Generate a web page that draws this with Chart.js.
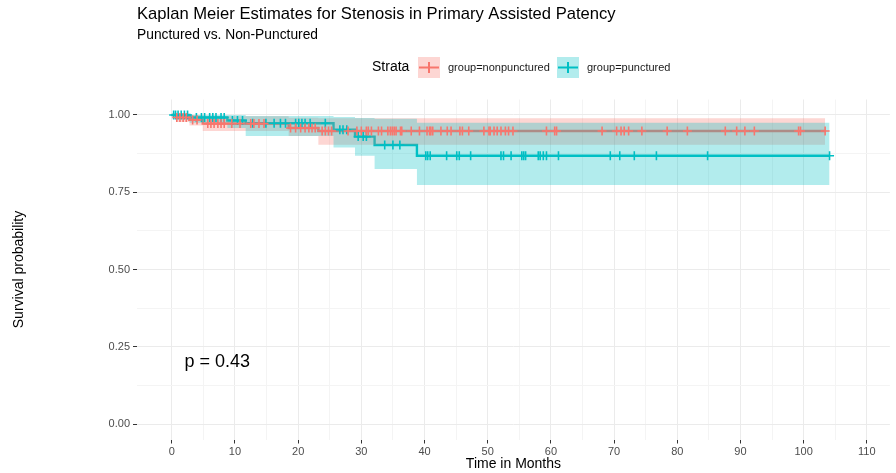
<!DOCTYPE html>
<html>
<head>
<meta charset="utf-8">
<script src="https://cdn.jsdelivr.net/npm/chart.js@4.4.0/dist/chart.umd.min.js"></script>
<style>
body { margin: 0; background: #fff; }
canvas { display: block; }
</style>
</head>
<body>
<canvas id="kmChart" width="896" height="473"></canvas>
<script>
// group=nonpunctured (red)
var nonpuncTimes = [0, 0.7, 2.8, 4.9, 18.5, 23.2, 103.4];
var nonpuncSurv  = [1, 0.992, 0.984, 0.972, 0.958, 0.948, 0.948];
var nonpuncLower = [1, 0.977, 0.966, 0.948, 0.932, 0.904, 0.904];
var nonpuncUpper = [1, 1, 1, 0.996, 0.991, 0.989, 0.989];
var nonpuncCensor = [0.8, 1.3, 1.8, 2.3, 3.3, 4.0, 5.7, 6.2, 6.7, 7.3, 7.8, 8.3, 9.5, 10.8,
  12.5, 13.0, 13.8, 14.6, 18.8, 19.6, 20.4, 21.1, 21.7, 22.2, 22.7, 23.8, 24.3, 24.8, 25.3,
  27.9, 29.3, 30.0, 30.8, 31.1, 31.6, 32.7, 33.2, 34.2, 34.6, 34.9, 35.2, 35.5, 36.2, 36.4,
  37.9, 39.2, 40.4, 40.8, 41.0, 41.3, 42.6, 43.6, 44.2, 45.6, 46.0, 47.0, 49.4, 50.2, 50.4,
  51.0, 51.5, 52.1, 52.8, 53.3, 54.0, 59.3, 60.6, 60.9, 68.1, 70.4, 71.1, 71.6, 72.3, 74.4,
  78.4, 81.6, 87.6, 89.4, 90.7, 92.2, 99.2, 99.5, 103.4];

// group=punctured (teal)
var puncTimes = [0, 2.8, 8.8, 11.7, 25.6, 29.0, 32.1, 38.8, 104.1];
var puncSurv  = [1, 0.992, 0.982, 0.973, 0.952, 0.930, 0.903, 0.868, 0.868];
var puncLower = [1, 0.975, 0.958, 0.932, 0.895, 0.868, 0.825, 0.773, 0.773];
var puncUpper = [1, 1, 1, 0.997, 0.993, 0.99, 0.988, 0.975, 0.975];
var puncCensor = [0.3, 0.6, 1.0, 1.5, 2.0, 2.5, 3.9, 4.7, 5.2, 6.0, 6.5, 7.0, 7.8, 8.3, 9.6,
  10.4, 11.2, 12.8, 14.9, 16.2, 17.2, 18.0, 19.6, 20.1, 20.6, 21.1, 21.9, 24.3, 26.6, 27.1,
  27.7, 29.5, 30.3, 30.8, 33.7, 35.0, 36.1, 40.2, 40.5, 40.9, 43.5, 45.1, 45.5, 47.3, 52.1,
  52.5, 53.7, 55.4, 55.7, 56.0, 58.0, 58.3, 58.8, 59.3, 61.2, 69.4, 70.9, 73.2, 76.7, 84.8, 104.1];

var xTicks = [0, 10, 20, 30, 40, 50, 60, 70, 80, 90, 100, 110];
var yTicks = [0, 0.25, 0.5, 0.75, 1];
var pvalText = "p = 0.43";

var redCol = '#F8766D';
var tealCol = '#00BFC4';
var redFill = 'rgba(248,118,109,0.3)';
var tealFill = 'rgba(0,191,196,0.3)';
var FONT = '"Liberation Sans", Arial, Helvetica, sans-serif';

function pts(times, vals) {
  return times.map(function (t, i) { return { x: t, y: vals[i] }; });
}

function survAt(times, surv, t) {
  var s = surv[0];
  for (var i = 0; i < times.length; i++) {
    if (times[i] <= t) s = surv[i];
  }
  return s;
}

function censorPts(cens, times, surv) {
  return cens.map(function (t) { return { x: t, y: survAt(times, surv, t) }; });
}

// minor grid positions halfway between labelled ticks
function withMinor(major) {
  var out = [];
  for (var i = 0; i < major.length; i++) {
    out.push(major[i]);
    if (i < major.length - 1) out.push((major[i] + major[i + 1]) / 2);
  }
  return out;
}
function isMajor(list, v) {
  return list.some(function (m) { return Math.abs(m - v) < 1e-6; });
}

var lineBase = { pointRadius: 0, stepped: 'before', fill: false, order: 3, borderWidth: 2.4 };

var annotPlugin = {
  id: 'annot',
  afterDraw: function (chart) {
    var c = chart.ctx;
    c.save();
    c.fillStyle = '#000';
    c.textBaseline = 'middle';
    c.textAlign = 'left';
    c.font = '16.6px ' + FONT;
    c.fillText('Kaplan Meier Estimates for Stenosis in Primary Assisted Patency', 137, 14);
    c.font = '13.8px ' + FONT;
    c.fillText('Punctured vs. Non-Punctured', 137, 35);

    // legend
    c.font = '14px ' + FONT;
    c.fillText('Strata', 372, 67);
    var keys = [
      { x: 418, fill: redFill, col: redCol, label: 'group=nonpunctured', lx: 448 },
      { x: 557, fill: tealFill, col: tealCol, label: 'group=punctured', lx: 587 }
    ];
    keys.forEach(function (k) {
      c.fillStyle = k.fill;
      c.fillRect(k.x, 57, 22, 21);
      c.strokeStyle = k.col;
      c.lineWidth = 2;
      c.beginPath();
      c.moveTo(k.x + 1, 67.5);
      c.lineTo(k.x + 21, 67.5);
      c.moveTo(k.x + 11, 62);
      c.lineTo(k.x + 11, 73);
      c.stroke();
      c.fillStyle = '#1a1a1a';
      c.font = '11px ' + FONT;
      c.fillText(k.label, k.lx, 67.5);
    });

    // p-value
    var xs = chart.scales.x, ys = chart.scales.y;
    c.fillStyle = '#000';
    c.font = '18px ' + FONT;
    c.fillText(pvalText, xs.getPixelForValue(2), ys.getPixelForValue(0.2));
    c.restore();
  }
};

new Chart(document.getElementById('kmChart'), {
  type: 'line',
  data: {
    datasets: [
      Object.assign({}, lineBase, { data: pts(nonpuncTimes, nonpuncSurv), borderColor: redCol }),
      Object.assign({}, lineBase, { data: pts(puncTimes, puncSurv), borderColor: tealCol }),
      { data: pts(puncTimes, puncUpper), pointRadius: 0, stepped: 'before', borderWidth: 0,
        borderColor: 'rgba(0,0,0,0)', backgroundColor: tealFill, fill: '+1', order: 2 },
      { data: pts(puncTimes, puncLower), pointRadius: 0, stepped: 'before', borderWidth: 0,
        borderColor: 'rgba(0,0,0,0)', fill: false, order: 2 },
      { data: pts(nonpuncTimes, nonpuncUpper), pointRadius: 0, stepped: 'before', borderWidth: 0,
        borderColor: 'rgba(0,0,0,0)', backgroundColor: redFill, fill: '+1', order: 2 },
      { data: pts(nonpuncTimes, nonpuncLower), pointRadius: 0, stepped: 'before', borderWidth: 0,
        borderColor: 'rgba(0,0,0,0)', fill: false, order: 2 },
      { data: censorPts(nonpuncCensor, nonpuncTimes, nonpuncSurv), showLine: false,
        pointStyle: 'cross', pointRadius: 4.5, borderWidth: 1.6, borderColor: redCol, order: 1 },
      { data: censorPts(puncCensor, puncTimes, puncSurv), showLine: false,
        pointStyle: 'cross', pointRadius: 4.5, borderWidth: 1.6, borderColor: tealCol, order: 1 }
    ]
  },
  options: {
    responsive: false,
    animation: false,
    layout: { padding: { top: 99.5, right: 0, bottom: 0, left: 0 } },
    plugins: { legend: { display: false }, tooltip: { enabled: false } },
    scales: {
      x: {
        type: 'linear',
        min: -5.5,
        max: 113.65,
        afterBuildTicks: function (scale) {
          scale.ticks = withMinor(xTicks).map(function (v) { return { value: v }; });
        },
        afterFit: function (scale) { scale.height = 33.5; },
        border: { display: false },
        grid: {
          color: function (ctx) { return isMajor(xTicks, ctx.tick.value) ? '#EBEBEB' : '#F4F4F4'; },
          tickColor: function (ctx) { return isMajor(xTicks, ctx.tick.value) ? '#333333' : 'rgba(0,0,0,0)'; },
          tickLength: 4
        },
        ticks: {
          autoSkip: false,
          maxRotation: 0,
          padding: 2,
          color: '#4D4D4D',
          font: { family: FONT, size: 11 },
          callback: function (v) { return isMajor(xTicks, v) ? String(v) : ''; }
        },
        title: {
          display: true,
          text: 'Time in Months',
          color: '#000',
          font: { family: FONT, size: 14 },
          padding: { top: 0, bottom: 0 }
        }
      },
      y: {
        min: -0.05,
        max: 1.05,
        afterBuildTicks: function (scale) {
          scale.ticks = withMinor(yTicks).map(function (v) { return { value: v }; });
        },
        afterFit: function (scale) { scale.width = 137; },
        border: { display: false },
        grid: {
          color: function (ctx) { return isMajor(yTicks, ctx.tick.value) ? '#EBEBEB' : '#F4F4F4'; },
          tickColor: function (ctx) { return isMajor(yTicks, ctx.tick.value) ? '#333333' : 'rgba(0,0,0,0)'; },
          tickLength: 4
        },
        ticks: {
          autoSkip: false,
          padding: 3,
          color: '#4D4D4D',
          font: { family: FONT, size: 11 },
          callback: function (v) { return isMajor(yTicks, v) ? v.toFixed(2) : ''; }
        },
        title: {
          display: true,
          text: 'Survival probability',
          color: '#000',
          font: { family: FONT, size: 14 },
          padding: { top: 11, bottom: 0 }
        }
      }
    }
  },
  plugins: [annotPlugin]
});
</script>
</body>
</html>
